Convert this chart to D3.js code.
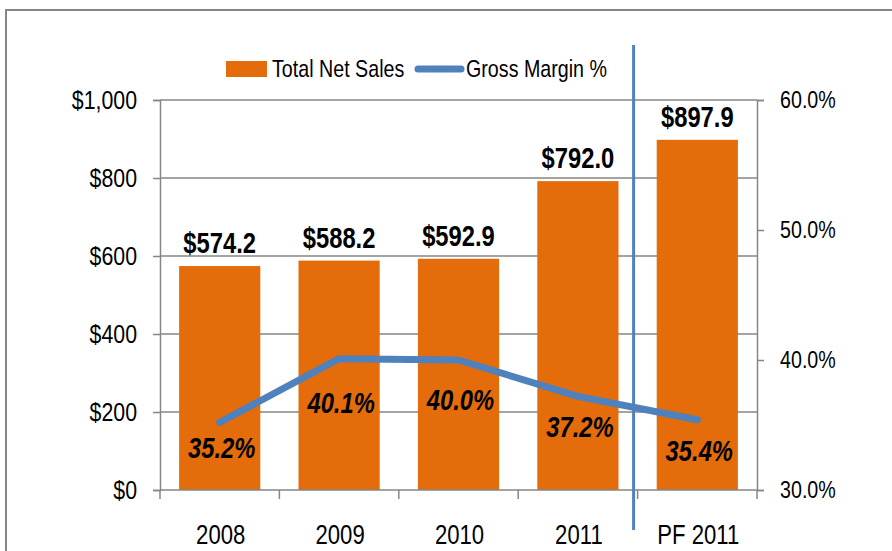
<!DOCTYPE html>
<html>
<head>
<meta charset="utf-8">
<script src="https://cdn.jsdelivr.net/npm/d3@7"></script>
<style>
  html, body { margin: 0; padding: 0; background: #fff; }
  svg { display: block; }
  text { font-family: "Liberation Sans Narrow", "Arial Narrow", "Liberation Sans", Arial, sans-serif; fill: #000; }
</style>
</head>
<body>
<svg id="chart" width="892" height="551"></svg>
<script>
// ---- data ----
const categories = ["2008", "2009", "2010", "2011", "PF 2011"];
const netSales = [574.2, 588.2, 592.9, 792.0, 897.9];
const grossMargin = [35.2, 40.1, 40.0, 37.2, 35.4];
const salesTicks = [0, 200, 400, 600, 800, 1000];
const marginTicks = [30, 40, 50, 60];
const seriesNames = ["Total Net Sales", "Gross Margin %"];
// label vertical offsets (layout only)
const marginLabelDy = [25, 43, 39, 30, 30];

const orange = "#E46C0A", blue = "#4F81BD", grid = "#868686";
const svg = d3.select("#chart");
const L = 160, R = 757, T = 100, B = 490;
const SX = 0.82; // horizontal condensing to imitate a narrow typeface

function narrow(sel) {
  sel.each(function () {
    const t = d3.select(this);
    const xx = +t.attr("x") || 0, yy = +t.attr("y") || 0;
    t.attr("x", 0).attr("y", 0).attr("transform", `translate(${xx},${yy}) scale(${SX},1)`);
  });
}

// outer frame
svg.append("rect").attr("x", 6).attr("y", 10).attr("width", 1000).attr("height", 1000)
  .attr("fill", "none").attr("stroke", grid).attr("stroke-width", 2);

const x = d3.scaleBand().domain(categories).range([L, R]).paddingInner(0.32).paddingOuter(0.16);
const y = d3.scaleLinear().domain([0, 1000]).range([B, T]);
const y2 = d3.scaleLinear().domain([30, 60]).range([B, T]);

// gridlines
svg.append("g").selectAll("line").data(salesTicks.filter(d => d > 0)).join("line")
  .attr("x1", L).attr("x2", R).attr("y1", d => y(d)).attr("y2", d => y(d))
  .attr("stroke", grid).attr("stroke-width", 1.5);

// left axis
const gl = svg.append("g").attr("transform", `translate(${L},0)`)
  .call(d3.axisLeft(y).tickValues(salesTicks).tickSize(7).tickPadding(16)
    .tickFormat(d => "$" + d3.format(",")(d)));
gl.selectAll(".tick text").attr("font-size", 26);
// right axis
const gr = svg.append("g").attr("transform", `translate(${R},0)`)
  .call(d3.axisRight(y2).tickValues(marginTicks).tickSize(7).tickPadding(16)
    .tickFormat(d => d.toFixed(1) + "%"));
gr.selectAll(".tick text").attr("font-size", 24);
[gl, gr].forEach(g => {
  g.select(".domain").attr("stroke", grid).attr("stroke-width", 1.5);
  g.selectAll(".tick line").attr("stroke", grid).attr("stroke-width", 1.5);
  g.selectAll(".tick text").attr("font-family", null).call(narrow);
});

// bars
svg.append("g").selectAll("rect").data(categories).join("rect")
  .attr("x", d => x(d)).attr("width", x.bandwidth())
  .attr("y", (d, i) => y(netSales[i])).attr("height", (d, i) => B - y(netSales[i]))
  .attr("fill", orange);

// bottom axis
const boundaries = categories.map(d => x(d) - x.step() * x.paddingInner() / 2).concat([R]);
boundaries[0] = L;
svg.append("line").attr("x1", L).attr("x2", R).attr("y1", B).attr("y2", B)
  .attr("stroke", grid).attr("stroke-width", 1.5);
svg.append("g").selectAll("line").data(boundaries).join("line")
  .attr("x1", d => d).attr("x2", d => d).attr("y1", B).attr("y2", B + 9)
  .attr("stroke", grid).attr("stroke-width", 1.5);
svg.append("g").selectAll("text").data(categories).join("text")
  .attr("x", d => x(d) + x.bandwidth() / 2 + 1).attr("y", 544)
  .attr("text-anchor", "middle").attr("font-size", 27).text(d => d).call(narrow);

// bar labels
svg.append("g").selectAll("text").data(categories).join("text")
  .attr("x", d => x(d) + x.bandwidth() / 2)
  .attr("y", (d, i) => y(netSales[i]) - 13)
  .attr("text-anchor", "middle").attr("font-size", 29).attr("font-weight", "bold")
  .text((d, i) => "$" + netSales[i].toFixed(1)).call(narrow);

// line
const line = d3.line().x((d, i) => x(categories[i]) + x.bandwidth() / 2).y(d => y2(d));
svg.append("path").datum(grossMargin).attr("d", line)
  .attr("fill", "none").attr("stroke", blue).attr("stroke-width", 7)
  .attr("stroke-linejoin", "round").attr("stroke-linecap", "round");

// margin labels
svg.append("g").selectAll("text").data(grossMargin).join("text")
  .attr("x", (d, i) => x(categories[i]) + x.bandwidth() / 2 + 2)
  .attr("y", (d, i) => y2(d) + marginLabelDy[i] + 11)
  .attr("text-anchor", "middle").attr("font-size", 29).attr("font-weight", "bold")
  .attr("font-style", "italic")
  .text(d => d.toFixed(1) + "%").call(narrow);

// separator line
const sepX = (x("2011") + x.bandwidth() + x("PF 2011")) / 2 - 4;
svg.append("line").attr("x1", sepX).attr("x2", sepX).attr("y1", 45).attr("y2", 530)
  .attr("stroke", blue).attr("stroke-width", 3);

// legend
const lg = svg.append("g");
lg.append("rect").attr("x", 226).attr("y", 61).attr("width", 41).attr("height", 16).attr("fill", orange);
lg.append("text").attr("x", 272).attr("y", 77).attr("font-size", 24).text(seriesNames[0]).call(narrow);
lg.append("line").attr("x1", 418).attr("x2", 461).attr("y1", 69).attr("y2", 69)
  .attr("stroke", blue).attr("stroke-width", 7).attr("stroke-linecap", "round");
lg.append("text").attr("x", 466).attr("y", 77).attr("font-size", 24).text(seriesNames[1]).call(narrow);
</script>
</body>
</html>
